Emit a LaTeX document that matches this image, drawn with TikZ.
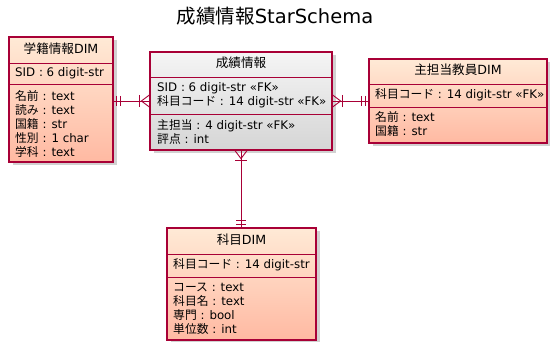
\documentclass[tikz,border=0pt]{standalone}
\usepackage{fontspec}
\setmainfont{DejaVu Sans}
\newfontfamily\cjk{Noto Sans CJK JP}
\newcommand\jp[1]{{\cjk #1}}
\usetikzlibrary{calc,shadows}
\definecolor{bord}{HTML}{A80036}
\definecolor{peachT}{HTML}{FFEAD6}
\definecolor{peachB}{HTML}{FFB9A2}
\definecolor{grayT}{HTML}{F5F5F5}
\definecolor{grayB}{HTML}{D5D5D5}
\tikzset{
  ent/.style={rectangle, draw=bord, line width=1.2pt, inner sep=0pt,
    top color=peachT, bottom color=peachB,
    drop shadow={shadow xshift=3.5pt, shadow yshift=-3.5pt, fill=black!45, opacity=.4}},
  factent/.style={ent, top color=grayT, bottom color=grayB},
  sepl/.style={draw=bord, line width=0.9pt},
  conn/.style={draw=bord, line width=0.9pt},
  hdr/.style={font=\fontsize{12.6}{14}\selectfont, inner sep=0pt, text height=9pt, text depth=2.5pt},
  rowt/.style={font=\fontsize{11.8}{14}\selectfont, inner sep=0pt, anchor=west, text height=8.5pt, text depth=2.5pt},
  ttl/.style={font=\fontsize{19.5}{22}\selectfont, inner sep=0pt, text height=14pt, text depth=4pt},
}
\begin{document}
\begin{tikzpicture}[x=1pt,y=-1pt]
\useasboundingbox (0,0) rectangle (550,342);
\node[ttl] (title) at (275,19) {\jp{成績情報}StarSchema};

% ---- 学籍情報DIM
\node[ent, minimum width=104pt, minimum height=125pt] (stu) at (61,99.5) {};
\draw[sepl] (stu.west |- 0,63) -- (stu.east |- 0,63);
\draw[sepl] (stu.west |- 0,84) -- (stu.east |- 0,84);
\node[hdr] (stuh) at (61,50) {\jp{学籍情報}DIM};
\node[rowt] (stu1) at (15,73.5) {SID : 6 digit-str};
\node[rowt] (stu2) at (15,98) {\jp{名前} : text};
\node[rowt] (stu3) at (15,111.8) {\jp{読み} : text};
\node[rowt] (stu4) at (15,125.6) {\jp{国籍} : str};
\node[rowt] (stu5) at (15,139.4) {\jp{性別} : 1 char};
\node[rowt] (stu6) at (15,153.2) {\jp{学科} : text};

% ---- 成績情報
\node[factent, minimum width=182pt, minimum height=98pt] (fact) at (241,101) {};
\draw[sepl] (fact.west |- 0,77) -- (fact.east |- 0,77);
\draw[sepl] (fact.west |- 0,114) -- (fact.east |- 0,114);
\node[hdr] (facth) at (241,64.5) {\jp{成績情報}};
\node[rowt] (fact1) at (157,89) {SID : 6 digit-str «FK»};
\node[rowt] (fact2) at (157,102.8) {\jp{科目コード} : 14 digit-str «FK»};
\node[rowt] (fact3) at (157,126.5) {\jp{主担当} : 4 digit-str «FK»};
\node[rowt] (fact4) at (157,140.3) {\jp{評点} : int};

% ---- 主担当教員DIM
\node[ent, minimum width=178pt, minimum height=84pt] (tea) at (458,101) {};
\draw[sepl] (tea.west |- 0,84) -- (tea.east |- 0,84);
\draw[sepl] (tea.west |- 0,107) -- (tea.east |- 0,107);
\node[hdr] (teah) at (458,71.5) {\jp{主担当教員}DIM};
\node[rowt] (tea1) at (375,95.5) {\jp{科目コード} : 14 digit-str «FK»};
\node[rowt] (tea2) at (375,118.5) {\jp{名前} : text};
\node[rowt] (tea3) at (375,132.3) {\jp{国籍} : str};

% ---- 科目DIM
\node[ent, minimum width=149pt, minimum height=112pt] (kam) at (241.5,284) {};
\draw[sepl] (kam.west |- 0,254) -- (kam.east |- 0,254);
\draw[sepl] (kam.west |- 0,277) -- (kam.east |- 0,277);
\node[hdr] (kamh) at (241.5,241) {\jp{科目}DIM};
\node[rowt] (kam1) at (173,265.5) {\jp{科目コード} : 14 digit-str};
\node[rowt] (kam2) at (173,289) {\jp{コース} : text};
\node[rowt] (kam3) at (173,302.8) {\jp{科目名} : text};
\node[rowt] (kam4) at (173,316.6) {\jp{専門} : bool};
\node[rowt] (kam5) at (173,330.4) {\jp{単位数} : int};

% ---- connectors
% 学籍情報DIM -- 成績情報
\draw[conn] (stu.east |- fact.west) -- (fact.west);
\draw[conn] ($(stu.east |- fact.west)+(3,-5)$) -- ++(0,10);
\draw[conn] ($(stu.east |- fact.west)+(7,-5)$) -- ++(0,10);
\draw[conn] ($(fact.west)+(-10,-6)$) -- ++(0,12);
\draw[conn] ($(fact.west)+(0,-6)$) -- ($(fact.west)+(-8,0)$) -- ($(fact.west)+(0,6)$);

% 成績情報 -- 主担当教員DIM
\draw[conn] (fact.east) -- (tea.west |- fact.east);
\draw[conn] ($(tea.west |- fact.east)+(-3,-5)$) -- ++(0,10);
\draw[conn] ($(tea.west |- fact.east)+(-7,-5)$) -- ++(0,10);
\draw[conn] ($(fact.east)+(10,-6)$) -- ++(0,12);
\draw[conn] ($(fact.east)+(0,-6)$) -- ($(fact.east)+(8,0)$) -- ($(fact.east)+(0,6)$);

% 成績情報 -- 科目DIM
\draw[conn] (fact.south) -- (fact.south |- kam.north);
\draw[conn] ($(fact.south |- kam.north)+(-5,-3)$) -- ++(10,0);
\draw[conn] ($(fact.south |- kam.north)+(-5,-7)$) -- ++(10,0);
\draw[conn] ($(fact.south)+(-6,10)$) -- ++(12,0);
\draw[conn] ($(fact.south)+(-6,0)$) -- ($(fact.south)+(0,8)$) -- ($(fact.south)+(6,0)$);
\end{tikzpicture}
\end{document}
